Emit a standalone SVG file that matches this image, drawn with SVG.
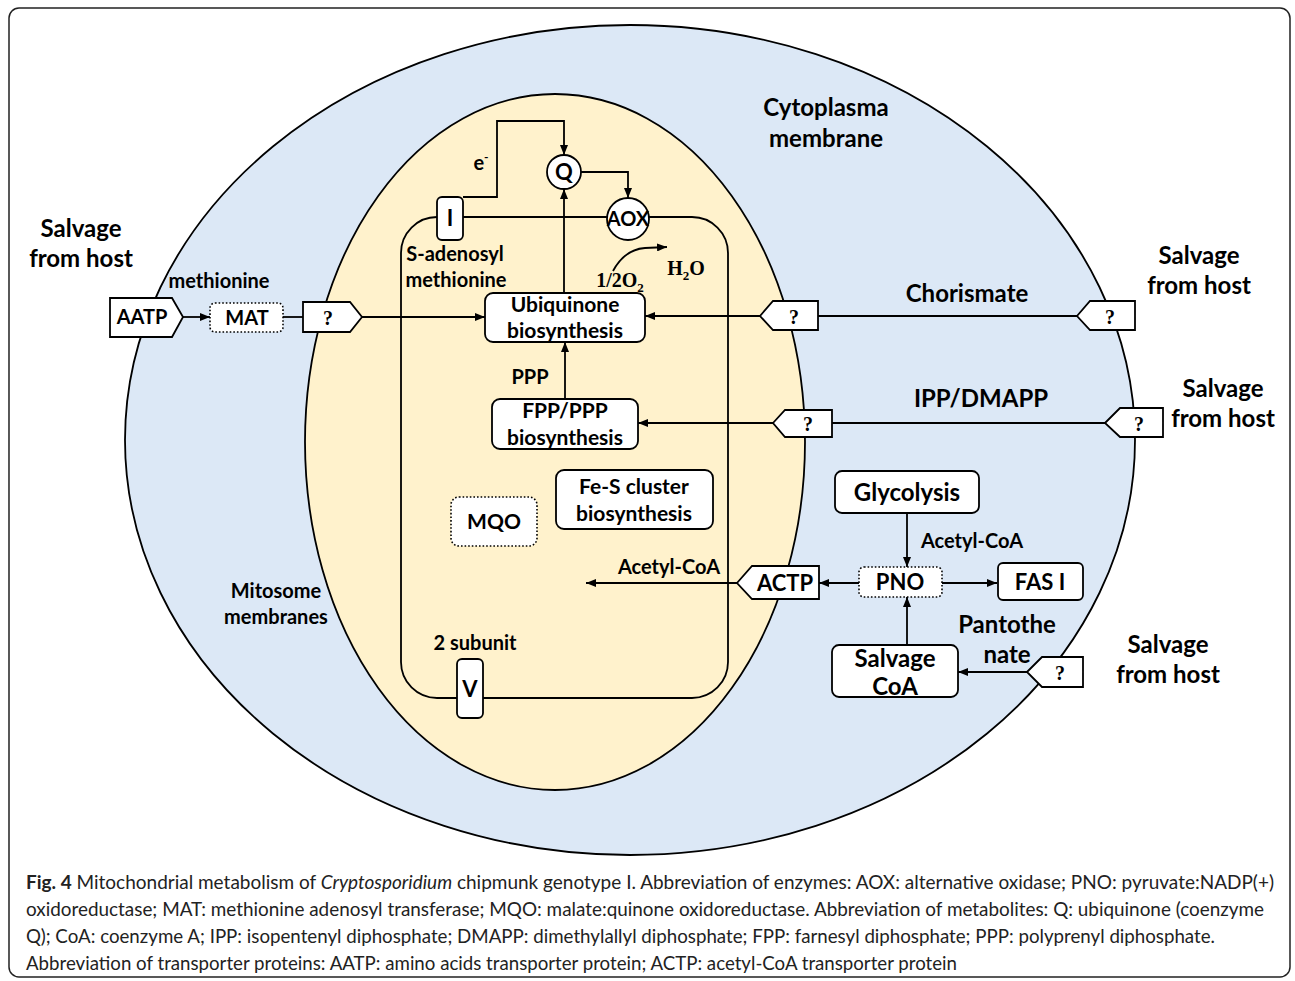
<svg xmlns="http://www.w3.org/2000/svg" width="1295" height="981" viewBox="0 0 1295 981">
<style>
.lbl{font-family:Lato,"Liberation Sans",sans-serif;font-weight:bold;fill:#000;text-anchor:middle}
.big{font-size:24px}
.med{font-size:22px}
.bx{font-size:21px}
.sm{font-size:20px}
.q{font-family:"Liberation Serif",serif;font-weight:bold;font-size:20px;text-anchor:middle}
.box{fill:#fff;stroke:#000;stroke-width:1.8}
.dot{fill:#fff;stroke:#000;stroke-width:1.6;stroke-dasharray:1.6 2}
.ln{fill:none;stroke:#000;stroke-width:1.8}
.cap{font-family:Lato,"Liberation Sans",sans-serif;font-size:19px;fill:#222}
</style>
<defs>
<marker id="ah" viewBox="0 0 10 8" refX="10" refY="4" markerWidth="10" markerHeight="8" markerUnits="userSpaceOnUse" orient="auto">
<path d="M0,0 L10,4 L0,8 z" fill="#000"/>
</marker>
</defs>
<rect x="9" y="8" width="1281" height="969" rx="10" fill="#fff" stroke="#222" stroke-width="1.5"/>
<ellipse cx="630" cy="440" rx="505" ry="415" fill="#dce8f6" stroke="#000" stroke-width="1.8"/>
<ellipse cx="555" cy="442" rx="250" ry="348" fill="#fff2cc" stroke="#000" stroke-width="1.8"/>
<rect id="mitosome-membrane" x="401" y="217" width="327" height="481" rx="36" fill="none" stroke="#000" stroke-width="1.8"/>

<g id="labels">
<text class="lbl big" x="826" y="116">Cytoplasma</text>
<text class="lbl big" x="826" y="147">membrane</text>
<text class="lbl big" x="81" y="237">Salvage</text>
<text class="lbl big" x="81" y="267">from host</text>
<text class="lbl big" x="1199" y="264">Salvage</text>
<text class="lbl big" x="1199" y="294">from host</text>
<text class="lbl big" x="1223" y="397">Salvage</text>
<text class="lbl big" x="1223" y="427">from host</text>
<text class="lbl big" x="1168" y="653">Salvage</text>
<text class="lbl big" x="1168" y="683">from host</text>
<text class="lbl sm" x="219" y="288">methionine</text>
<text class="lbl sm" x="455" y="261">S-adenosyl</text>
<text class="lbl sm" x="456" y="287">methionine</text>
<text class="lbl sm" x="481" y="170">e<tspan font-size="12" dy="-9">-</tspan></text>
<text x="620" y="287" font-family="'Liberation Serif',serif" font-weight="bold" font-size="20" text-anchor="middle">1/2O<tspan font-size="13" dy="5">2</tspan></text>
<text x="686" y="275" font-family="'Liberation Serif',serif" font-weight="bold" font-size="20" text-anchor="middle">H<tspan font-size="13" dy="5">2</tspan><tspan dy="-5">O</tspan></text>
<text class="lbl big" x="967" y="302">Chorismate</text>
<text class="lbl big" x="981" y="407">IPP/DMAPP</text>
<text class="lbl sm" x="530" y="384">PPP</text>
<text class="lbl sm" x="972" y="548">Acetyl-CoA</text>
<text class="lbl sm" x="669" y="574">Acetyl-CoA</text>
<text class="lbl big" x="1007" y="633">Pantothe</text>
<text class="lbl big" x="1007" y="663">nate</text>
<text class="lbl sm" x="475" y="650">2 subunit</text>
<text class="lbl sm" x="276" y="598">Mitosome</text>
<text class="lbl sm" x="276" y="624">membranes</text>
</g>

<g id="connectors">
<path class="ln" d="M463,197 H497 V121 H564 V155" marker-end="url(#ah)"/>
<path class="ln" d="M581,172 H628 V198" marker-end="url(#ah)"/>
<path class="ln" d="M564,293 V189" marker-end="url(#ah)"/>
<path class="ln" d="M613,271 C620,258 630,249 645,248 L667,247" marker-end="url(#ah)"/>
<path class="ln" d="M183,317 H210" marker-end="url(#ah)"/>
<path class="ln" d="M283,317 H303"/>
<path class="ln" d="M362,317 H485" marker-end="url(#ah)"/>
<path class="ln" d="M818,316 H1077"/>
<path class="ln" d="M760,316 H645" marker-end="url(#ah)"/>
<path class="ln" d="M832,423 H1105"/>
<path class="ln" d="M773,423 H638" marker-end="url(#ah)"/>
<path class="ln" d="M565,399 V342" marker-end="url(#ah)"/>
<path class="ln" d="M907,513 V567" marker-end="url(#ah)"/>
<path class="ln" d="M859,583 H819" marker-end="url(#ah)"/>
<path class="ln" d="M737,583 H586" marker-end="url(#ah)"/>
<path class="ln" d="M942,583 H997" marker-end="url(#ah)"/>
<path class="ln" d="M907,645 V597" marker-end="url(#ah)"/>
<path class="ln" d="M1027,672 H958" marker-end="url(#ah)"/>
</g>

<g id="node-I"><rect class="box" x="437" y="197" width="26" height="43" rx="5"/><text class="lbl med" x="450" y="226">I</text></g>
<g id="node-Q"><circle class="box" cx="564" cy="172" r="17"/><text class="lbl med" x="564" y="180">Q</text></g>
<g id="node-AOX"><circle class="box" cx="628" cy="219" r="21"/><text class="lbl sm" x="628" y="226">AOX</text></g>
<g id="node-AATP"><path class="box" d="M110,298 H172 L183,317 L172,337 H110 Z"/><text class="lbl sm" x="142" y="324">AATP</text></g>
<g id="node-MAT"><rect class="dot" x="210" y="303" width="73" height="29" rx="5"/><text class="lbl sm" x="247" y="325">MAT</text></g>
<g id="node-q1"><path class="box" d="M303,302 H350 L362,317 L350,332 H303 Z"/><text class="q" x="328" y="325">?</text></g>
<g id="node-ubiquinone"><rect class="box" x="485" y="293" width="160" height="49" rx="8"/><text class="lbl bx" x="565" y="312">Ubiquinone</text><text class="lbl bx" x="565" y="338">biosynthesis</text></g>
<g id="node-q2"><path class="box" d="M760,316 L773,301 H818 V330 H773 Z"/><text class="q" x="794" y="324">?</text></g>
<g id="node-q3"><path class="box" d="M1077,316 L1090,301 H1135 V330 H1090 Z"/><text class="q" x="1110" y="324">?</text></g>
<g id="node-fpp"><rect class="box" x="492" y="399" width="146" height="50" rx="8"/><text class="lbl bx" x="565" y="418">FPP/PPP</text><text class="lbl bx" x="565" y="445">biosynthesis</text></g>
<g id="node-q4"><path class="box" d="M773,423 L785,410 H832 V437 H785 Z"/><text class="q" x="808" y="431">?</text></g>
<g id="node-q5"><path class="box" d="M1105,423 L1120,408 H1163 V437 H1120 Z"/><text class="q" x="1139" y="431">?</text></g>
<g id="node-fes"><rect class="box" x="556" y="470" width="157" height="59" rx="8"/><text class="lbl bx" x="634" y="494">Fe-S cluster</text><text class="lbl bx" x="634" y="521">biosynthesis</text></g>
<g id="node-MQO"><rect class="dot" x="451" y="497" width="86" height="49" rx="8"/><text class="lbl bx" x="494" y="529">MQO</text></g>
<g id="node-glycolysis"><rect class="box" x="835" y="471" width="144" height="42" rx="7"/><text class="lbl big" x="907" y="501">Glycolysis</text></g>
<g id="node-PNO"><rect class="dot" x="859" y="567" width="83" height="30" rx="5"/><text class="lbl med" x="900" y="590">PNO</text></g>
<g id="node-ACTP"><path class="box" d="M737,583 L752,566 H819 V599 H752 Z"/><text class="lbl med" x="785" y="591">ACTP</text></g>
<g id="node-FAS"><rect class="box" x="998" y="563" width="85" height="37" rx="5"/><text class="lbl med" x="1040" y="590">FAS I</text></g>
<g id="node-salvagecoa"><rect class="box" x="832" y="645" width="126" height="52" rx="7"/><text class="lbl big" x="895" y="667">Salvage</text><text class="lbl big" x="895" y="695">CoA</text></g>
<g id="node-q6"><path class="box" d="M1027,672 L1042,657 H1083 V687 H1042 Z"/><text class="q" x="1060" y="680">?</text></g>
<g id="node-V"><rect class="box" x="457" y="659" width="26" height="59" rx="5"/><text class="lbl med" x="470" y="697">V</text></g>

<g id="caption">
<text class="cap" x="26" y="889" textLength="1248" lengthAdjust="spacingAndGlyphs"><tspan font-weight="bold">Fig. 4</tspan> Mitochondrial metabolism of <tspan font-style="italic">Cryptosporidium</tspan> chipmunk genotype I. Abbreviation of enzymes: AOX: alternative oxidase; PNO: pyruvate:NADP(+)</text>
<text class="cap" x="26" y="916" textLength="1238" lengthAdjust="spacingAndGlyphs">oxidoreductase; MAT: methionine adenosyl transferase; MQO: malate:quinone oxidoreductase. Abbreviation of metabolites: Q: ubiquinone (coenzyme</text>
<text class="cap" x="26" y="943" textLength="1189" lengthAdjust="spacingAndGlyphs">Q); CoA: coenzyme A; IPP: isopentenyl diphosphate; DMAPP: dimethylallyl diphosphate; FPP: farnesyl diphosphate; PPP: polyprenyl diphosphate.</text>
<text class="cap" x="26" y="970" textLength="931" lengthAdjust="spacingAndGlyphs">Abbreviation of transporter proteins: AATP: amino acids transporter protein; ACTP: acetyl-CoA transporter protein</text>
</g>
</svg>
